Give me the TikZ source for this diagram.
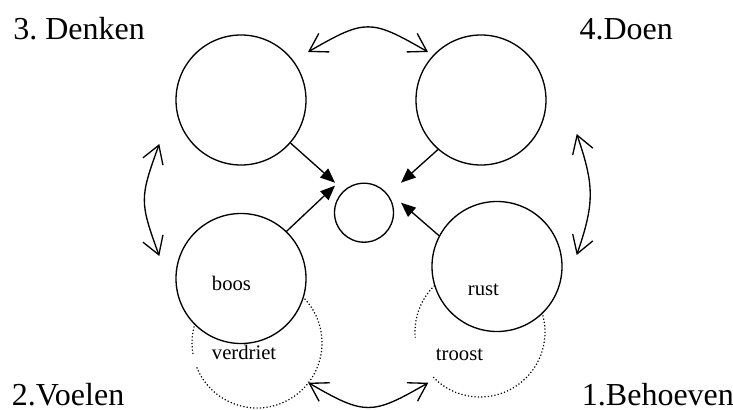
\documentclass[tikz,border=0pt]{standalone}
\usepackage{fontspec}
\setmainfont{Liberation Serif}
\usetikzlibrary{arrows.meta}
\frenchspacing

\begin{document}
\begin{tikzpicture}[
    x=0.75pt, y=0.75pt,
    ring/.style={circle, draw, line width=1pt, fill=white, minimum size=97.5pt, inner sep=0pt},
    kernring/.style={circle, draw, line width=1pt, fill=white, minimum size=44.25pt, inner sep=0pt},
    push/.style={-{Triangle[length=11pt, width=9pt]}, line width=1pt},
    swap/.style={{Straight Barb[length=13pt, width=16pt]}-{Straight Barb[length=13pt, width=16pt]}, line width=1pt},
    weak/.style={dash pattern=on 0.9pt off 1.6pt, line width=0.9pt},
    big/.style={anchor=base west, inner sep=0pt, font=\fontsize{24}{28}\selectfont},
    small/.style={anchor=base west, inner sep=0pt, font=\fontsize{15.5}{18}\selectfont}
]
    \useasboundingbox (0,0) rectangle (733,-410);

    % Dotted circles behind the lower ones
    \coordinate (vc) at (257,-343);
    \coordinate (tc) at (480,-332);
    \draw[weak] ([shift={(202:65)}]vc) arc[start angle=202, end angle=550.5, radius=65];
    \draw[weak] ([shift={(224:65)}]tc) arc[start angle=224, end angle=545, radius=65];

    % Four circles and the core
    \node[ring] (denken) at (241,-100) {};
    \node[ring] (doen) at (481,-100) {};
    \node[ring] (voelen) at (241,-278.5) {};
    \node[ring] (behoeven) at (497,-266.5) {};
    \node[kernring] (kern) at (364,-212.7) {};

    % Arrows to the core
    \draw[push] (denken.-41) -- ([shift={(-29,30)}]kern.center);
    \draw[push] (doen.229) -- ([shift={(37,30)}]kern.center);
    \draw[push] (voelen.46) -- ([shift={(-29,27)}]kern.center);
    \draw[push] (behoeven.152) -- ([shift={(37,10)}]kern.center);

    % Ends of the curved arrows
    \coordinate (t1) at (308,-52);
    \coordinate (t2) at (428,-52);
    \coordinate (l1) at (159.3,-144);
    \coordinate (l2) at (159.3,-256);
    \coordinate (r1) at (576.7,-134);
    \coordinate (r2) at (576.7,-255);
    \coordinate (b1) at (308.3,-382.7);
    \coordinate (b2) at (428.3,-382.7);

    % Curved double arrows
    \draw[swap] (t1) to[out=30, in=150, looseness=1.42] (t2);
    \draw[swap] (l1) to[out=250, in=110, looseness=1.32] (l2);
    \draw[swap] (r1) to[out=289, in=71, looseness=1.16] (r2);
    \draw[swap] (b1) to[out=-30, in=210, looseness=1.4] (b2);

    % Texts in the circles
    \node[small] (boos) at (211.7,-290) {boos};
    \node[small] (verdriet) at (211.7,-359) {verdriet};
    \node[small] (rust) at (467.7,-295) {rust};
    \node[small] (troost) at (435.7,-360) {troost};

    % Corner labels
    \node[big] (lbdenken) at (13,-40) {3. Denken};
    \node[big] (lbdoen) at (579.3,-40) {4.Doen};
    \node[big] (lbvoelen) at (11.7,-405) {2.Voelen};
    \node[big] (lbbehoeven) at (581.7,-405) {1.Behoeven};
\end{tikzpicture}
\end{document}
